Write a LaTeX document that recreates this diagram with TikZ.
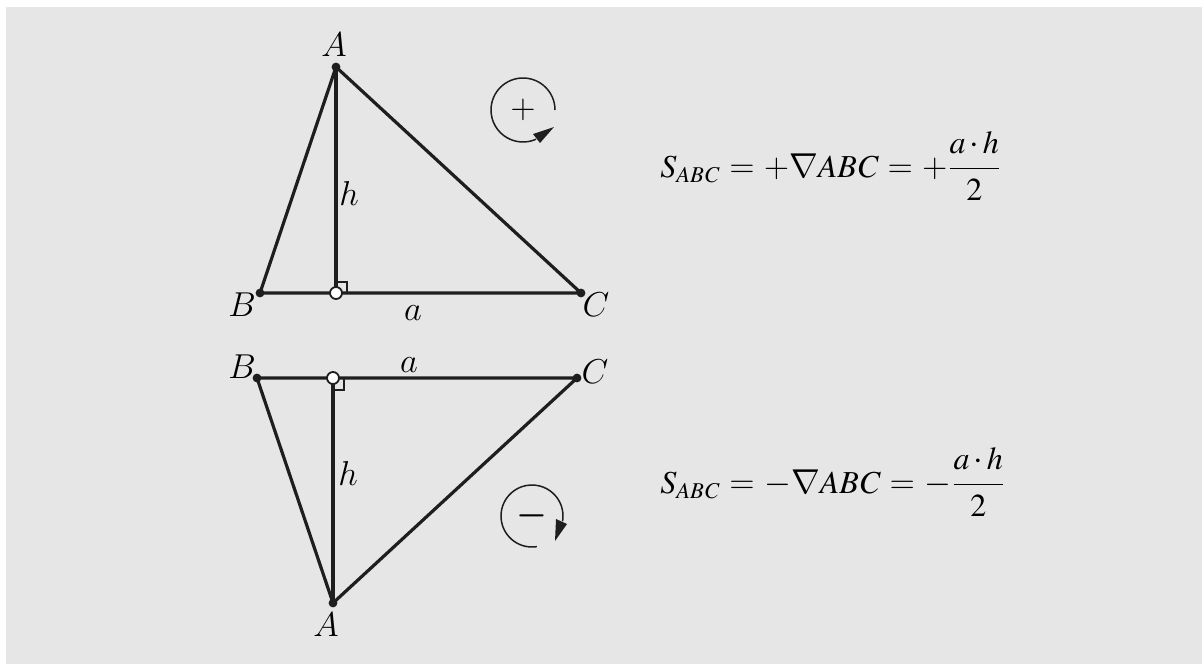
\documentclass[tikz,border=0pt]{standalone}
\usepackage{fontspec}
\definecolor{bg}{RGB}{230,230,230}
\definecolor{ink}{RGB}{30,30,30}
\newcommand{\tmsf}{\fontencoding{OT1}\fontfamily{ptm}\selectfont}
\newcommand{\fml}[1]{\mbox{\tmsf\itshape #1}}
\newcommand{\fmu}[1]{\mbox{\tmsf\upshape #1}}
\newcommand{\fmsub}{\mbox{\fontsize{11.3}{13}\tmsf\itshape ABC}}
\begin{document}
\begin{tikzpicture}[x=0.5pt,y=-0.5pt,
  edge/.style={line width=1.6pt, ink, line join=round},
  vdot/.style={circle, fill=ink, inner sep=0, minimum size=4.4pt},
  foot/.style={circle, draw=ink, fill=white, line width=0.9pt, inner sep=0, minimum size=6pt},
  lbl/.style={font=\fontsize{16}{19}\selectfont, inner sep=0},
  biglbl/.style={font=\fontsize{18}{20}\selectfont, inner sep=0},
  rmark/.style={line width=0.8pt, ink},
  orient/.style={line width=0.75pt, ink},
  tipfill/.style={fill=ink},
  formula/.style={font=\fontsize{16}{19}\selectfont, inner sep=0, anchor=base west}]
\useasboundingbox (0,0) rectangle (1202,664);
\fill[white] (0,0) rectangle (1202,664);
\fill[bg] (6,7) rectangle (1202,664);

% ---------- top triangle ----------
\coordinate (A1) at (336,67);
\coordinate (B1) at (260,293);
\coordinate (C1) at (581,293);
\coordinate (H1) at (336,293);
\draw[edge] (A1) -- (B1) -- (C1) -- cycle;
\draw[edge] (A1) -- (H1);
\draw[rmark] (H1) ++(0,-11) -- ++(11,0) -- ++(0,11);
\node[vdot] (A1d) at (A1) {};
\node[vdot] (B1d) at (B1) {};
\node[vdot] (C1d) at (C1) {};
\node[foot] (H1d) at (H1) {};
\node[lbl] (lA1) at (334,45) {$A$};
\node[lbl] (lB1) at (242,305) {$B$};
\node[lbl] (lC1) at (596,305) {$C$};
\node[lbl] (lh1) at (349,193) {$h$};
\node[lbl] (la1) at (413,313) {$a$};

% orientation sign (+)
\coordinate (O1) at (523,110);
\draw[orient] (O1) ++(0:32) arc[start angle=0, end angle=-294, radius=32];
\fill[tipfill] (554,127) -- (533,134) -- (540,143) -- cycle;
\node[lbl] (plussign) at (O1) {$+$};

\node[formula] (f1) at (660,177) {$\displaystyle \fml{S}_{\fmsub} = +\nabla\fml{ABC} = +\frac{\fml{a}\mkern2mu{\cdot}\mkern2mu\fml{h}}{\fmu{2}}$};

% ---------- bottom triangle ----------
\coordinate (A2) at (333,603);
\coordinate (B2) at (257,378);
\coordinate (C2) at (577,378);
\coordinate (H2) at (333,378);
\draw[edge] (A2) -- (B2) -- (C2) -- cycle;
\draw[edge] (A2) -- (H2);
\draw[rmark] (H2) ++(0,12) -- ++(11,0) -- ++(0,-12);
\node[vdot] (A2d) at (A2) {};
\node[vdot] (B2d) at (B2) {};
\node[vdot] (C2d) at (C2) {};
\node[foot] (H2d) at (H2) {};
\node[lbl] (lA2) at (326,625) {$A$};
\node[lbl] (lB2) at (242,367) {$B$};
\node[lbl] (lC2) at (595,372) {$C$};
\node[lbl] (lh2) at (348,473) {$h$};
\node[lbl] (la2) at (409,365) {$a$};

% orientation sign (-)
\coordinate (O2) at (532,516);
\draw[orient] (O2) ++(81:31) arc[start angle=81, end angle=370, radius=31];
\fill[tipfill] (555,541) -- (556,519) -- (567,524) -- cycle;
\node[biglbl] (minussign) at (O2) {\mbox{\boldmath$-$}};

\node[formula] (f2) at (660,493) {$\displaystyle \fml{S}_{\fmsub} = -\nabla\fml{ABC} = -\frac{\fml{a}\mkern2mu{\cdot}\mkern2mu\fml{h}}{\fmu{2}}$};
\end{tikzpicture}
\end{document}
